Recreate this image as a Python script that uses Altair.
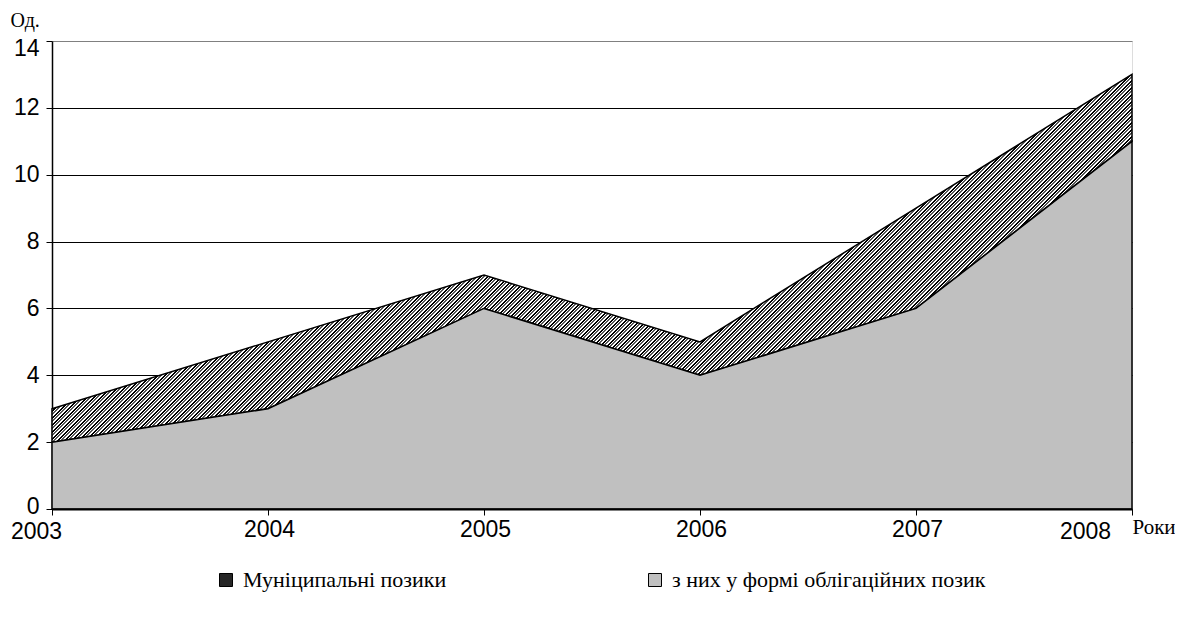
import altair as alt
import pandas as pd

years = [2003, 2004, 2005, 2006, 2007, 2008]
total_loans = [3, 5, 7, 5, 9, 13]
bond_loans = [2, 3, 6, 4, 6, 11]
series_names = ["Муніципальні позики", "з них у формі облігаційних позик"]
y_ticks = [0, 2, 4, 6, 8, 10, 12, 14]

df = pd.DataFrame({"year": years, "total": total_loans, "bonds": bond_loans})
legend_df = pd.DataFrame({"year": [years[0], years[0]], "v": [0, 0], "series": series_names})

# plot geometry
W, H = 1080, 468
# hatch via a striped linear gradient (stripes along x+y = const)
bw = W
bh = H * (max(total_loans) - min(bond_loans)) / 14.0
S = bw + bh
t = S / (bw * bw + bh * bh)
period = 7.0
bands = [(0.0, 1.8, "#000000"), (1.8, 3.5, "#ffffff"), (3.5, 5.3, "#555555"), (5.3, 7.0, "#ffffff")]
stops = []
k = 0
while k * period < S:
    base = k * period
    for s, e, c in bands:
        o1 = min((base + s) / S, 1.0)
        o2 = min((base + e) / S, 1.0)
        stops.append(alt.GradientStop(offset=round(o1, 6), color=c))
        stops.append(alt.GradientStop(offset=round(o2, 6), color=c))
    k += 1
hatch = alt.LinearGradient(gradient="linear", stops=stops, x1=0, y1=0, x2=t * bw, y2=t * bh)

x_enc = alt.X(
    "year:Q",
    scale=alt.Scale(domain=[2003, 2008], nice=False, zero=False),
    axis=alt.Axis(
        values=years, format="d", title="Роки", titleAngle=0, titleAlign="left",
        titleBaseline="alphabetic", titleX=1080, titleY=24,
        titleFont="Liberation Serif", titleFontSize=21, titleFontWeight="normal", titleColor="black",
        labelFont="Liberation Sans", labelFontSize=23, labelColor="black",
        labelOffset={"condition": [{"test": "datum.value == 2008", "value": -47},
                                   {"test": "datum.value == 2003", "value": -16}], "value": 1},
        labelPadding={"condition": [{"test": "datum.value == 2008", "value": 5},
                                    {"test": "datum.value == 2003", "value": 5}], "value": 3},
        tickSize=6, tickColor="black", domainColor="black", domainWidth=2, grid=False, zindex=1,
        labelFlush=False,
    ),
)
y_scale = alt.Scale(domain=[0, 14], nice=False)
y_axis = alt.Axis(
    values=y_ticks, title="Од.", titleAngle=0, titleAlign="left", titleBaseline="alphabetic",
    titleX=-42, titleY=-15, titleFont="Liberation Serif", titleFontSize=20,
    titleFontWeight="normal", titleColor="black",
    labelFont="Liberation Sans", labelFontSize=23, labelColor="black", labelPadding=7,
    labelOffset={"condition": [{"test": "datum.value == 0", "value": -3},
                               {"test": "datum.value == 14", "value": 7}], "value": 0},
    tickSize=6, tickColor="black", domainColor="black", domainWidth=1.5,
    grid=True, gridColor={"condition": {"test": "datum.value == 14", "value": "#808080"}, "value": "#000000"},
    gridWidth=1,
)

upper = alt.Chart(df).mark_area(fill=hatch, stroke="black", strokeWidth=1.5).encode(
    x=x_enc, y=alt.Y("total:Q", scale=y_scale, axis=y_axis), y2="bonds:Q"
)
lower = alt.Chart(df).mark_area(fill="#c0c0c0", stroke="black", strokeWidth=1.5).encode(
    x="year:Q", y="bonds:Q"
)
legend_layer = alt.Chart(legend_df).mark_point(shape="square", filled=True, opacity=0).encode(
    x="year:Q", y="v:Q",
    color=alt.Color(
        "series:N",
        scale=alt.Scale(domain=series_names, range=["#262626", "#c0c0c0"]),
        legend=alt.Legend(
            title=None, orient="none", legendX=163, legendY=528, direction="horizontal",
            columns=2, columnPadding=197, symbolType="square", symbolSize=169,
            symbolOpacity=1, symbolStrokeColor="black", symbolStrokeWidth=1,
            labelFont="Liberation Serif", labelFontSize=22, labelColor="black",
            labelOffset=6, labelLimit=600, padding=0,
        ),
    ),
)

chart = alt.layer(upper, lower, legend_layer).properties(
    width=W, height=H,
    autosize=alt.AutoSizeParams(type="none"),
    padding={"left": 44, "top": 33, "right": 43, "bottom": 107},
).configure_view(stroke="#808080", strokeWidth=1).configure(background="white")

chart.save("out.html", embed_options={"renderer": "svg", "actions": False})
